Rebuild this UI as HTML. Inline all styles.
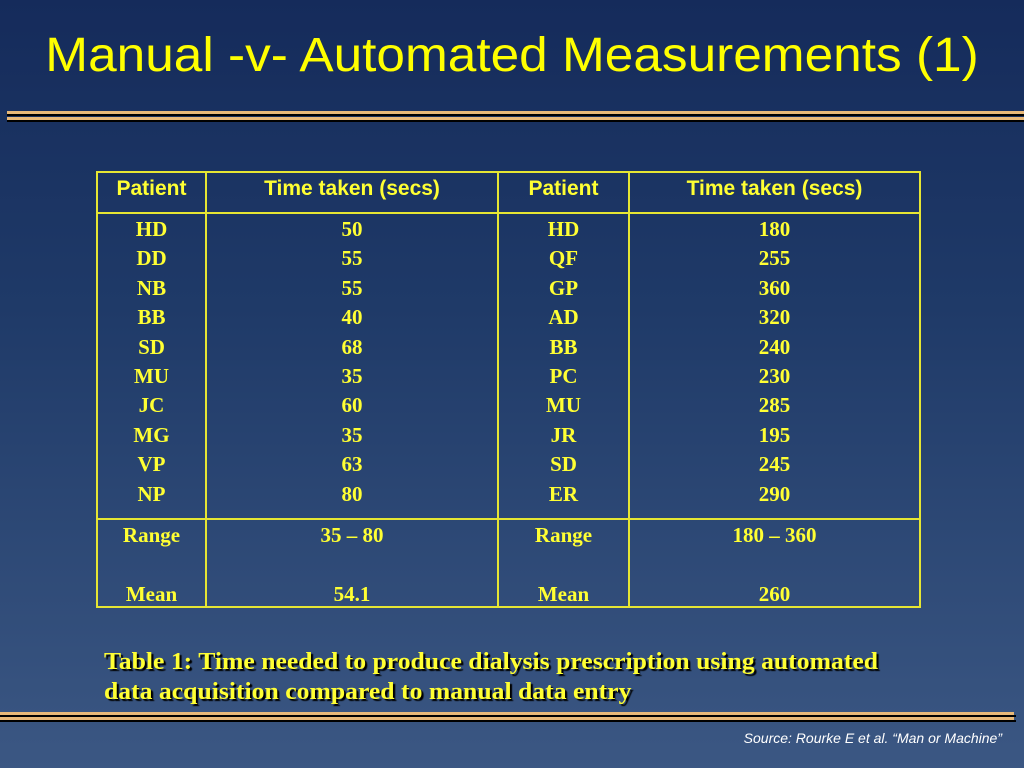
<!DOCTYPE html>
<html><head><meta charset="utf-8"><style>
*{margin:0;padding:0;box-sizing:border-box}
body{width:1024px;height:768px;overflow:hidden;position:relative;background:linear-gradient(#152b5b 0%,#1f3a68 40%,#3b5783 100%);font-family:"Liberation Sans",sans-serif;color:#ffff33}
.abs{position:absolute}
.title{left:0;width:1024px;top:26px;text-align:center;font-size:48px;line-height:60px;color:#ffff00;transform:scaleX(1.07);transform-origin:512px 0}
.ln{position:absolute;height:3px;background:#e8b878}
.bk{position:absolute;height:2px;background:#000}
.tbl{left:96px;top:171px;width:825px;height:437px;border:2px solid #e6e633}
.v{position:absolute;top:0;bottom:0;width:2px;background:#e6e633}
.h{position:absolute;left:0;right:0;height:2px;background:#e6e633}
.hd{position:absolute;top:0;height:40px;line-height:32px;text-align:center;font-size:21px;font-weight:bold;color:#ffff33}
.col{position:absolute;top:42px;text-align:center;font-family:"Liberation Serif",serif;font-weight:bold;font-size:21px;line-height:29.4px;color:#ffff33}
.ft{position:absolute;text-align:center;font-family:"Liberation Serif",serif;font-weight:bold;font-size:21px;color:#ffff33}
.cap{left:104px;top:647px;font-family:"Liberation Serif",serif;font-weight:bold;font-size:24px;line-height:30px;color:#ffff33;text-shadow:2px 2px 1px #000;transform:scaleX(1.07);transform-origin:0 0;white-space:nowrap}
.src{right:22px;top:730px;font-style:italic;font-size:14px;color:#fff}
</style></head><body>
<div class="abs title">Manual -v- Automated Measurements (1)</div>
<div>
<div class="ln" style="left:7px;right:0;top:111px"></div><div class="bk" style="left:7px;right:0;top:114px"></div>
<div class="ln" style="left:7px;right:0;top:117px"></div><div class="bk" style="left:7px;right:0;top:120px"></div>
</div>
<div class="abs tbl">
<div class="v" style="left:107px"></div><div class="v" style="left:399px"></div><div class="v" style="left:530px"></div>
<div class="h" style="top:39px"></div><div class="h" style="top:345px"></div>
<div class="hd" style="left:0;width:107px">Patient</div>
<div class="hd" style="left:109px;width:290px">Time taken (secs)</div>
<div class="hd" style="left:401px;width:129px">Patient</div>
<div class="hd" style="left:532px;width:289px">Time taken (secs)</div>
<div class="col" style="left:0;width:107px">HD<br>DD<br>NB<br>BB<br>SD<br>MU<br>JC<br>MG<br>VP<br>NP</div>
<div class="col" style="left:109px;width:290px">50<br>55<br>55<br>40<br>68<br>35<br>60<br>35<br>63<br>80</div>
<div class="col" style="left:401px;width:129px">HD<br>QF<br>GP<br>AD<br>BB<br>PC<br>MU<br>JR<br>SD<br>ER</div>
<div class="col" style="left:532px;width:289px">180<br>255<br>360<br>320<br>240<br>230<br>285<br>195<br>245<br>290</div>
<div class="ft" style="left:0;width:107px;top:350px">Range</div>
<div class="ft" style="left:109px;width:290px;top:350px">35 – 80</div>
<div class="ft" style="left:401px;width:129px;top:350px">Range</div>
<div class="ft" style="left:532px;width:289px;top:350px">180 – 360</div>
<div class="ft" style="left:0;width:107px;top:409px">Mean</div>
<div class="ft" style="left:109px;width:290px;top:409px">54.1</div>
<div class="ft" style="left:401px;width:129px;top:409px">Mean</div>
<div class="ft" style="left:532px;width:289px;top:409px">260</div>
</div>
<div class="abs cap">Table 1: Time needed to produce dialysis prescription using automated<br>data acquisition compared to manual data entry</div>
<div>
<div class="ln" style="left:0;width:1014px;top:712px"></div><div class="bk" style="left:0;width:1016px;top:715px"></div>
<div class="ln" style="left:0;width:1014px;top:717px"></div><div class="bk" style="left:0;width:1016px;top:720px"></div>
</div>
<div class="abs src">Source: Rourke E et al. “Man or Machine”</div>
</body></html>
